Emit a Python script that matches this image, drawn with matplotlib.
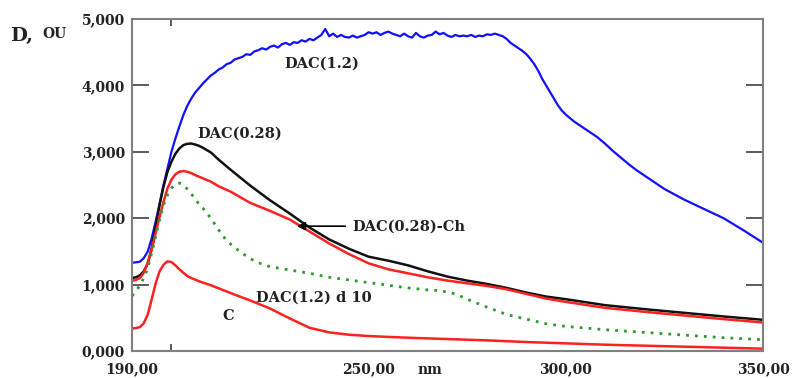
import numpy as np
import matplotlib
matplotlib.use("Agg")
import matplotlib.pyplot as plt
from matplotlib.ticker import FixedLocator, FuncFormatter

# ------ Spectra (wavelength nm, D in OU) ------
x_blue = [190, 191, 192, 193, 194, 195, 196, 197, 198, 199, 200, 201, 202, 203, 204, 205,
          206, 207, 208, 209, 210, 211, 212, 213, 214, 215, 216, 217, 218, 219, 220, 221,
          222, 223, 224, 225, 226, 227, 228, 229, 230, 231, 232, 233, 234, 235, 236, 237,
          238, 239, 240, 241, 242, 243, 244, 245, 246, 247, 248, 249, 250, 251, 252, 253,
          254, 255, 256, 257, 258, 259, 260, 261, 262, 263, 264, 265, 266, 267, 268, 269,
          270, 271, 272, 273, 274, 275, 276, 277, 278, 279, 280, 281, 282, 283, 284, 285,
          286, 287, 288, 289, 290, 291, 292, 293, 294, 295, 296, 297, 298, 299, 300, 302,
          304, 306, 308, 310, 312, 314, 316, 318, 320, 325, 330, 335, 340, 345, 350]
dac_12 = [1330, 1335, 1345, 1400, 1500, 1700, 1950, 2220, 2500, 2750, 3000, 3200, 3380, 3550, 3690, 3800,
          3890, 3960, 4030, 4090, 4150, 4190, 4240, 4270, 4320, 4340, 4390, 4410, 4430, 4470, 4460, 4510,
          4530, 4560, 4540, 4580, 4600, 4570, 4620, 4640, 4610, 4650, 4640, 4680, 4660, 4700, 4680, 4720,
          4760, 4850, 4740, 4780, 4730, 4760, 4730, 4720, 4750, 4720, 4740, 4760, 4800, 4780, 4800, 4760,
          4790, 4810, 4780, 4760, 4740, 4780, 4740, 4720, 4790, 4740, 4720, 4750, 4760, 4810, 4770, 4790,
          4750, 4730, 4760, 4740, 4750, 4740, 4760, 4730, 4750, 4740, 4770, 4760, 4780, 4760, 4740, 4700,
          4640, 4600, 4560, 4520, 4470, 4400, 4320, 4220, 4100, 4000, 3900, 3800, 3700, 3620, 3560, 3460,
          3380, 3300, 3220, 3120, 3010, 2910, 2810, 2720, 2640, 2440, 2280, 2140, 2000, 1820, 1630]

x_black = [190, 191, 192, 193, 194, 195, 196, 197, 198, 199, 200, 201, 202, 203, 204, 205, 206, 207,
           208, 210, 212, 215, 220, 225, 230, 235, 240, 245, 250, 255, 260, 265, 270, 275, 280, 285,
           290, 295, 300, 310, 320, 330, 340, 350]
dac_028 = [1100, 1110, 1140, 1200, 1320, 1550, 1880, 2200, 2480, 2700, 2850, 2970, 3050, 3100, 3120, 3125, 3110, 3090,
           3060, 2990, 2880, 2730, 2490, 2270, 2070, 1860, 1680, 1540, 1420, 1360, 1290, 1200, 1120, 1060, 1010, 950,
           880, 820, 780, 690, 630, 575, 520, 470]

x_red = [190, 191, 192, 193, 194, 195, 196, 197, 198, 199, 200, 201, 202, 203, 204, 205, 206, 208,
         210, 212, 215, 220, 225, 230, 235, 240, 245, 250, 255, 260, 265, 270, 275, 280, 285, 290,
         295, 300, 310, 320, 330, 340, 350]
dac_028_ch = [1060, 1070, 1100, 1180, 1330, 1530, 1780, 2020, 2250, 2450, 2580, 2660, 2700, 2710, 2700, 2680, 2650, 2600,
              2550, 2480, 2400, 2230, 2110, 1980, 1800, 1620, 1460, 1320, 1230, 1170, 1110, 1060, 1020, 980, 930, 860,
              790, 740, 650, 590, 535, 480, 430]

x_green = [190, 191, 192, 193, 194, 195, 196, 197, 198, 199, 200, 201, 202, 203, 204, 205, 206, 207,
           208, 210, 212, 214, 216, 218, 220, 222, 225, 230, 235, 240, 245, 250, 255, 260, 265, 268,
           272, 275, 280, 285, 290, 295, 300, 310, 320, 330, 340, 350]
dac_12_d10 = [830, 900, 990, 1100, 1250, 1480, 1720, 1980, 2200, 2350, 2450, 2510, 2530, 2500, 2440, 2370, 2290, 2210,
              2150, 2000, 1820, 1660, 1560, 1470, 1390, 1330, 1270, 1220, 1170, 1110, 1070, 1030, 990, 950, 920, 910,
              860, 780, 660, 550, 480, 410, 370, 320, 280, 240, 200, 170]

x_c = [190, 191, 192, 193, 194, 195, 196, 197, 198, 199, 200, 201, 202, 203, 204, 205, 207, 210,
       213, 216, 220, 225, 230, 235, 240, 245, 250, 260, 270, 280, 290, 300, 310, 320, 330, 340, 350]
c_curve = [340, 345, 360, 420, 550, 780, 1020, 1200, 1300, 1350, 1340, 1290, 1230, 1180, 1130, 1100, 1050, 990,
           920, 850, 760, 640, 490, 350, 280, 245, 225, 200, 180, 160, 135, 115, 95, 80, 65, 50, 35]

x_labels = [190, 250, 300, 350]
x_tick_marks = [200, 250, 300]
y_ticks = [0, 1000, 2000, 3000, 4000, 5000]

serif = "DejaVu Serif"

fig = plt.figure(figsize=(7.92, 3.78), dpi=100)
ax = fig.add_axes([132 / 792, 27 / 378, 631 / 792, 332 / 378])

ax.plot(x_blue, dac_12, color="#1010ff", lw=1.6)
ax.plot(x_black, dac_028, color="#111111", lw=1.8)
ax.plot(x_red, dac_028_ch, color="#ff2020", lw=1.8)
ax.plot(x_green, dac_12_d10, color="#2e9a2e", lw=2.0, linestyle=(0, (1, 2.2)))
ax.plot(x_c, c_curve, color="#ff2020", lw=1.8)

ax.set_xlim(190, 350)
ax.set_ylim(0, 5000)

# axes frame
for side in ["left", "bottom", "top", "right"]:
    ax.spines[side].set_color("#808080")
    ax.spines[side].set_linewidth(1.5)

ax.xaxis.set_major_locator(FixedLocator(x_labels))
ax.xaxis.set_minor_locator(FixedLocator(x_tick_marks))
ax.xaxis.set_major_formatter(FuncFormatter(lambda v, p: f"{v:.2f}".replace(".", ",")))
ax.tick_params(axis="x", which="major", length=0, pad=8)
ax.tick_params(axis="x", which="minor", length=5, width=1.2, color="#404040",
               direction="in", top=True, bottom=True)

ax.yaxis.set_major_locator(FixedLocator(y_ticks))
ax.yaxis.set_major_formatter(FuncFormatter(lambda v, p: f"{v / 1000:.3f}".replace(".", ",")))
ax.tick_params(axis="y", which="major", length=12, width=1.2, color="#404040",
               direction="in", left=True, right=True, pad=5)

for t in ax.get_xticklabels() + ax.get_yticklabels():
    t.set_fontfamily(serif)
    t.set_fontweight("bold")
    t.set_fontsize(10)
    t.set_color("#222222")

# curve labels
txt = dict(family=serif, weight="bold", size=10.5, color="#222222")
ax.text(238, 4320, "DAC(1.2)", ha="center", va="center", **txt)
ax.text(217.2, 3270, "DAC(0.28)", ha="center", va="center", **txt)
ax.text(245.9, 1880, "DAC(0.28)-Ch", ha="left", va="center", **txt)
ax.text(221.5, 800, "DAC(1.2) d 10", ha="left", va="center", **txt)
ax.text(214.4, 520, "C", ha="center", va="center", **txt)
ax.annotate("", xy=(231.1, 1880), xytext=(244.8, 1880),
            arrowprops=dict(arrowstyle="-|>", color="black", lw=1.2, mutation_scale=12))

# axis titles
fig.text(10 / 792, 1 - 36 / 378, "D,", family=serif, weight="bold", size=14,
         color="#222222", va="center", ha="left")
fig.text(42 / 792, 1 - 34 / 378, "OU", family=serif, weight="bold", size=10,
         color="#222222", va="center", ha="left")
fig.text(430 / 792, 1 / 378, "nm", family=serif, weight="bold", size=10,
         color="#222222", va="bottom", ha="center")

fig.savefig("out.png", dpi=100)
